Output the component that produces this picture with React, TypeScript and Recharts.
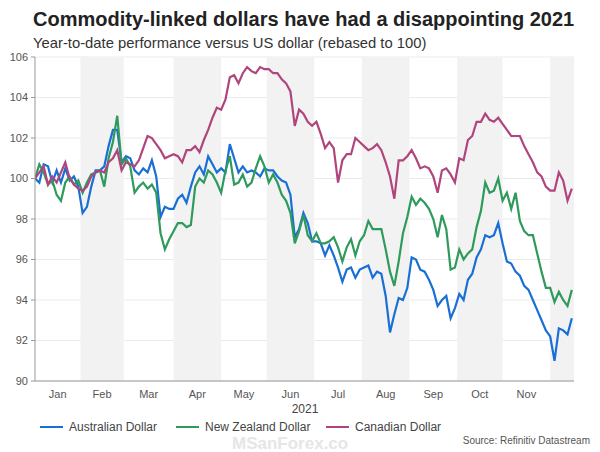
import React from 'react';
import { LineChart, Line, XAxis, YAxis, CartesianGrid, ReferenceArea } from 'recharts';

// x axis is in trading days from 1 Jan 2021
const MONTHS = ['Jan', 'Feb', 'Mar', 'Apr', 'May', 'Jun', 'Jul', 'Aug', 'Sep', 'Oct', 'Nov'];
const MONTH_START = [0, 21, 41, 64, 86, 107, 129, 151, 173, 195, 216, 238];
const MONTH_MID = [10.5, 31, 52.5, 75, 96.5, 118, 140, 162, 184, 205.5, 227];
const SHADED: [number, number][] = [[21, 41], [64, 86], [107, 129], [151, 173], [195, 216], [238, 249]];
const Y_TICKS = [90, 92, 94, 96, 98, 100, 102, 104, 106];

const TRADING_DAY = Array.from({ length: 125 }, (_, k) => k * 2);

const AUD = [
  100.0, 99.8, 100.7, 100.6, 99.8, 100.4, 99.8, 100.5, 99.9, 100.1,
  99.6, 98.3, 98.6, 99.6, 100.4, 100.4, 100.6, 101.6, 102.4, 102.4,
  100.8, 101.1, 101.0, 100.4, 100.2, 100.5, 100.3, 100.9, 100.1, 98.1,
  98.6, 98.5, 98.5, 99.0, 99.2, 98.8, 99.6, 100.3, 100.6, 100.2,
  101.1, 100.7, 100.3, 100.5, 100.3, 101.7, 101.0, 100.3, 100.6, 100.3,
  100.4, 100.3, 100.1, 100.5, 100.4, 100.4, 100.1, 99.9, 99.8, 99.2,
  97.1, 97.5, 98.3, 97.8, 96.9, 96.9, 96.8, 96.2, 96.7, 96.2,
  95.6, 94.9, 95.5, 95.6, 95.1, 95.5, 95.6, 95.7, 95.1, 95.4,
  95.3, 94.2, 92.4, 93.3, 94.1, 94.0, 94.6, 96.1, 96.0, 95.5,
  95.4, 95.0, 94.5, 93.7, 94.0, 94.2, 93.1, 93.6, 94.3, 94.0,
  95.0, 95.3, 96.1, 96.5, 97.2, 97.1, 97.2, 97.8, 96.8, 95.9,
  95.8, 95.4, 95.2, 94.7, 94.5, 94.0, 93.5, 93.0, 92.5, 92.2,
  91.0, 92.6, 92.5, 92.3, 93.1,
];

const NZD = [
  100.0, 100.7, 100.3, 99.7, 99.9, 99.2, 98.9, 99.8, 100.1, 99.7,
  99.9, 99.3, 99.8, 100.2, 100.3, 100.4, 99.6, 101.0, 101.8, 103.1,
  100.7, 101.0, 100.6, 99.3, 99.6, 99.8, 99.5, 99.7, 99.3, 97.3,
  96.5, 97.0, 97.4, 97.8, 97.8, 97.6, 97.7, 99.6, 100.0, 99.8,
  100.4, 100.2, 99.8, 99.3, 100.4, 101.1, 99.7, 99.8, 100.2, 99.6,
  99.8, 100.5, 101.1, 100.6, 99.8, 100.2, 99.8, 99.2, 98.9, 98.3,
  96.8, 97.4, 98.2, 97.2, 96.9, 97.3, 96.8, 96.8, 96.9, 97.1,
  96.6, 95.9, 96.6, 97.0, 96.2, 96.9, 97.2, 97.9, 97.5, 97.5,
  97.5, 96.5, 95.4, 94.7, 95.9, 97.3, 98.1, 99.1, 98.7, 99.0,
  98.8, 98.5, 98.0, 97.1, 98.2, 97.5, 95.5, 95.6, 96.5, 96.0,
  96.3, 96.5, 97.6, 98.4, 99.8, 99.3, 99.4, 100.0, 98.9, 99.3,
  98.5, 99.3, 97.9, 97.4, 97.2, 97.2, 96.3, 95.4, 94.6, 94.6,
  93.9, 94.4, 94.0, 93.7, 94.5,
];

const CAD = [
  100.0, 100.3, 100.6, 99.7, 100.1, 99.8, 100.3, 100.8, 100.0, 99.7,
  99.5, 99.4, 99.6, 100.1, 100.3, 100.4, 100.3, 100.8, 101.0, 101.4,
  100.4, 100.8, 100.7, 100.6, 100.9, 101.5, 102.1, 102.0, 101.7, 101.4,
  101.0, 101.1, 101.2, 101.1, 100.8, 101.4, 101.4, 101.6, 101.3, 101.9,
  102.4, 103.0, 103.5, 103.4, 103.9, 105.0, 105.1, 104.7, 105.2, 105.5,
  105.3, 105.2, 105.5, 105.4, 105.4, 105.2, 105.2, 104.9, 104.7, 104.3,
  102.6, 103.4, 103.2, 102.8, 102.6, 102.8, 102.2, 101.5, 101.8, 101.5,
  99.8, 100.9, 101.2, 101.2, 102.0, 101.8, 101.6, 101.4, 101.5, 101.7,
  101.4, 100.8, 100.1, 99.0, 100.9, 100.9, 101.1, 101.4, 101.0, 100.5,
  100.6, 100.5, 100.1, 99.3, 100.4, 100.5, 100.2, 99.8, 101.0, 100.9,
  101.9, 102.1, 102.8, 102.8, 103.2, 102.9, 102.8, 103.0, 102.7, 102.4,
  102.1, 102.1, 102.1, 101.6, 101.2, 100.8, 100.3, 100.1, 99.6, 99.4,
  99.4, 100.3, 99.9, 98.9, 99.5,
];

const SERIES = [
  { key: 'aud', name: 'Australian Dollar', color: '#1a6fd6' },
  { key: 'nzd', name: 'New Zealand Dollar', color: '#2e9a5c' },
  { key: 'cad', name: 'Canadian Dollar', color: '#b0457e' },
];

const data = TRADING_DAY.map((d, k) => ({ d, aud: AUD[k], nzd: NZD[k], cad: CAD[k] }));

const FONT = '"Liberation Sans", Arial, sans-serif';
const tickStyle = { fontSize: 11, fill: '#555' };

const App: React.FC = () => {
  return (
    <div style={{ position: 'absolute', left: 0, top: 0, width: 600, height: 452, background: '#fff', fontFamily: FONT, overflow: 'hidden' }}>
      <div style={{ position: 'absolute', left: 33, top: 8.5, fontSize: 20, lineHeight: 1, fontWeight: 'bold', color: '#222', whiteSpace: 'nowrap' }}>
        Commodity-linked dollars have had a disappointing 2021
      </div>
      <div style={{ position: 'absolute', left: 33, top: 35.5, fontSize: 14.8, lineHeight: 1, color: '#333', whiteSpace: 'nowrap' }}>
        Year-to-date performance versus US dollar (rebased to 100)
      </div>

      <div style={{ position: 'absolute', left: 0, top: 0 }}>
        <LineChart width={600} height={452} data={data} margin={{ top: 57, right: 26, bottom: 35, left: 0 }}>
          {SHADED.map(([a, b]) => (
            <ReferenceArea key={a} x1={a} x2={b} fill="#f2f2f2" fillOpacity={1} stroke="none" />
          ))}
          <CartesianGrid vertical={false} stroke="#ebebeb" />
          <XAxis
            dataKey="d"
            type="number"
            domain={[0, 249]}
            ticks={MONTH_START}
            tick={false}
            tickSize={4}
            height={6}
            stroke="#999"
            allowDataOverflow
          />
          <XAxis
            xAxisId="labels"
            dataKey="d"
            type="number"
            domain={[0, 249]}
            ticks={MONTH_MID}
            tickFormatter={(v: number) => MONTHS[MONTH_MID.indexOf(v)] ?? ''}
            axisLine={false}
            tickLine={false}
            tickSize={0}
            tickMargin={3}
            interval={0}
            height={30}
            tick={tickStyle}
            allowDataOverflow
          />
          <YAxis
            domain={[90, 106]}
            ticks={Y_TICKS}
            width={35}
            tickSize={4}
            tickMargin={3}
            stroke="#999"
            tick={tickStyle}
            interval={0}
          />
          {SERIES.map((s) => (
            <Line
              key={s.key}
              dataKey={s.key}
              name={s.name}
              stroke={s.color}
              strokeWidth={2.2}
              dot={false}
              type="linear"
              isAnimationActive={false}
            />
          ))}
        </LineChart>
      </div>

      <div style={{ position: 'absolute', left: 0, width: 610, top: 403, fontSize: 12, lineHeight: 1, color: '#444', textAlign: 'center' }}>
        2021
      </div>

      <div style={{ position: 'absolute', left: 232, top: 435, fontSize: 17, lineHeight: 1, fontWeight: 'bold', color: '#e6e6e6', whiteSpace: 'nowrap' }}>
        MSanForex.co
      </div>

      {SERIES.map((s, k) => (
        <div key={s.key} style={{ position: 'absolute', left: [40, 176, 326][k], top: 421, display: 'flex', alignItems: 'center', fontSize: 12, lineHeight: 1, color: '#444', whiteSpace: 'nowrap' }}>
          <span style={{ display: 'inline-block', width: 23, height: 2.5, background: s.color, marginRight: 6 }} />
          <span>{s.name}</span>
        </div>
      ))}

      <div style={{ position: 'absolute', right: 10, top: 435.5, fontSize: 10, lineHeight: 1, color: '#555', whiteSpace: 'nowrap' }}>
        Source: Refinitiv Datastream
      </div>
    </div>
  );
};

export default App;
